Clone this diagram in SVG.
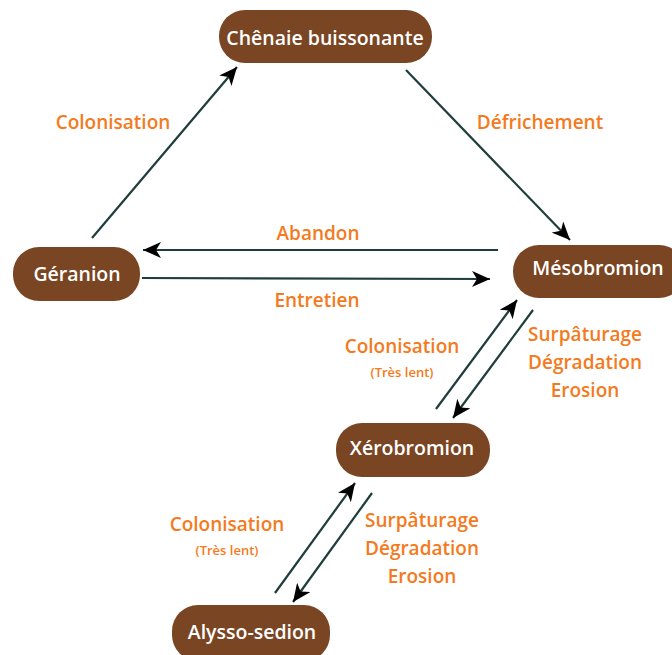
<svg xmlns="http://www.w3.org/2000/svg" width="672" height="655" viewBox="0 0 672 655">
<style>
.node rect{fill:#7A4522;}
.node text{fill:#FFFFFF;font-family:"Open Sans","DejaVu Sans",sans-serif;font-weight:600;font-size:19.5px;text-anchor:middle;dominant-baseline:central;}
.lbl{fill:#F47A20;font-family:"Open Sans","DejaVu Sans",sans-serif;font-weight:600;font-size:19px;text-anchor:middle;dominant-baseline:central;}
.small{font-size:13px;}
.conn line{stroke:#1E3D3B;stroke-width:2.2;marker-end:url(#ah);}
</style>
<defs>
<marker id="ah" markerWidth="20" markerHeight="16" refX="18" refY="8" orient="auto" markerUnits="userSpaceOnUse">
<path d="M0,0 L18,8 L0,16 L5,8 z" fill="#000"/>
</marker>
</defs>
<rect width="672" height="655" fill="#FFFFFF"/>
<g id="connectors" class="conn">
<line x1="92" y1="238" x2="237" y2="67"/>
<line x1="406" y1="70" x2="570" y2="240"/>
<line x1="498" y1="250" x2="143" y2="250"/>
<line x1="142" y1="278" x2="490" y2="279"/>
<line x1="436" y1="409" x2="517" y2="300"/>
<line x1="533" y1="310" x2="453" y2="418"/>
<line x1="275" y1="593" x2="355" y2="483"/>
<line x1="372" y1="493" x2="293" y2="602"/>
</g>
<g id="labels">
<text class="lbl" x="113" y="122">Colonisation</text>
<text class="lbl" x="540" y="122">Défrichement</text>
<text class="lbl" x="318" y="233">Abandon</text>
<text class="lbl" x="317" y="300">Entretien</text>
<text class="lbl" x="402" y="346">Colonisation</text>
<text class="lbl small" x="402" y="372">(Très lent)</text>
<text class="lbl" x="585" y="334">Surpâturage</text>
<text class="lbl" x="585" y="362">Dégradation</text>
<text class="lbl" x="585" y="390">Erosion</text>
<text class="lbl" x="227" y="524">Colonisation</text>
<text class="lbl small" x="227" y="550">(Très lent)</text>
<text class="lbl" x="422" y="520">Surpâturage</text>
<text class="lbl" x="422" y="548">Dégradation</text>
<text class="lbl" x="422" y="576">Erosion</text>
</g>
<g id="chenaie" class="node"><rect x="219" y="10" width="213" height="53" rx="26"/><text x="325" y="37">Chênaie buissonante</text></g>
<g id="geranion" class="node"><rect x="13" y="247" width="127" height="54" rx="26"/><text x="77" y="273">Géranion</text></g>
<g id="mesobromion" class="node"><rect x="513" y="245" width="172" height="53" rx="26"/><text x="598" y="267">Mésobromion</text></g>
<g id="xerobromion" class="node"><rect x="336" y="423" width="154" height="54" rx="26"/><text x="412" y="447">Xérobromion</text></g>
<g id="alysso" class="node"><rect x="172" y="605" width="158" height="56" rx="26"/><text x="252" y="631">Alysso-sedion</text></g>
</svg>
